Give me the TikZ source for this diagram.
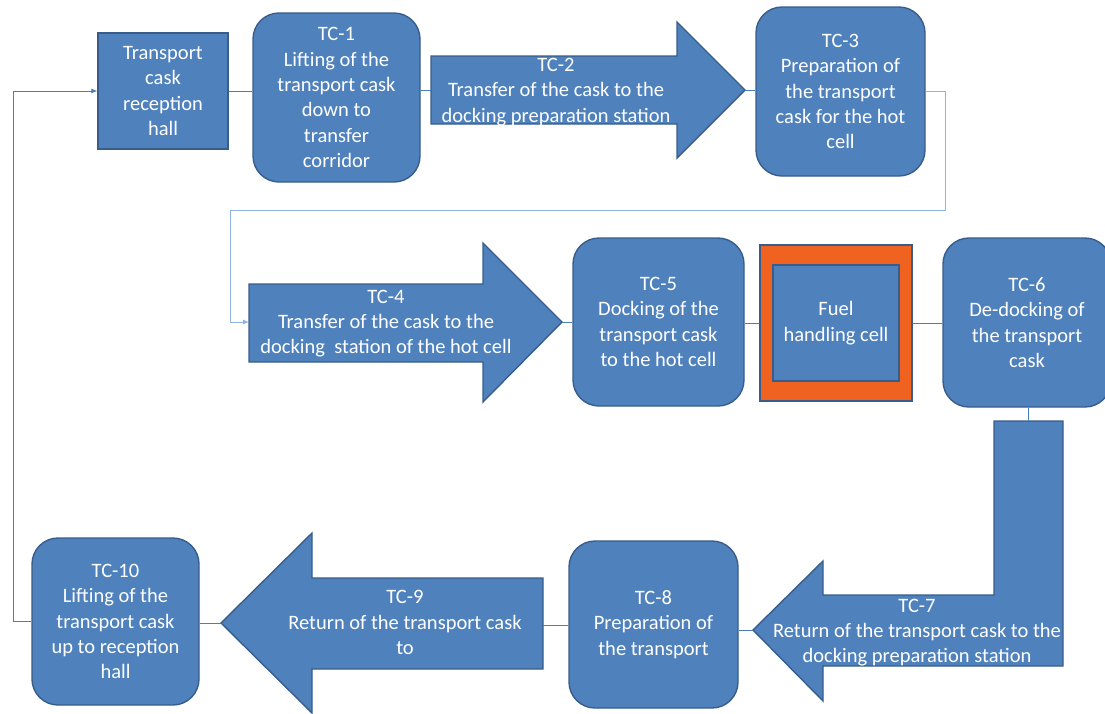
\documentclass[tikz,border=0pt]{standalone}
\usepackage{fontspec}
\setmainfont{Carlito}
\usetikzlibrary{arrows.meta}
\definecolor{boxfill}{HTML}{4F81BD}
\definecolor{boxline}{HTML}{385D8A}
\definecolor{conncol}{HTML}{4A7EBB}
\definecolor{connlight}{HTML}{8EB4E3}
\definecolor{cellorange}{HTML}{F0621F}
\tikzset{
  box/.style={draw=boxline, fill=boxfill, line width=1.4pt, inner sep=0pt,
    text=white, align=center, font=\fontsize{20.5}{25.3}\selectfont},
  rbox/.style={box, rounded corners=26pt},
  arrowshape/.style={draw=boxline, fill=boxfill, line width=1.4pt},
  lbl/.style={text=white, align=center, inner sep=0pt, font=\fontsize{20.5}{25.3}\selectfont},
  conn/.style={draw=conncol, line width=0.8pt},
  connl/.style={draw=connlight, line width=0.9pt},
  tip/.style={-{Latex[length=6pt,width=5pt]}}
}
\begin{document}
\begin{tikzpicture}[x=1pt,y=-1pt]
\useasboundingbox (0,0) rectangle (1105,713);

% ---- boxes ----
\node[box, minimum width=130pt, minimum height=116pt] (rh) at (163,91) {Transport\\cask\\reception\\hall};
\node[rbox, minimum width=167pt, minimum height=169pt] (tc1) at (336.5,97.5) {TC-1\\Lifting of the\\transport cask\\down to\\transfer\\corridor};
\node[rbox, minimum width=169pt, minimum height=169pt] (tc3) at (840.5,91.5) {TC-3\\Preparation of\\the transport\\cask for the hot\\cell};
\node[rbox, minimum width=171pt, minimum height=168pt] (tc5) at (658.5,322) {TC-5\\Docking of the\\transport cask\\to the hot cell};
\node[draw=boxline, fill=cellorange, line width=1.2pt, minimum width=152pt, minimum height=156pt, inner sep=0pt] (fuel) at (836,323) {};
\node[box, minimum width=126pt, minimum height=116pt] (fuelin) at (836,323) {Fuel\\handling cell};
\node[rbox, minimum width=168pt, minimum height=169pt] (tc6) at (1027,322.5) {TC-6\\De-docking of\\the transport\\cask};
\node[rbox, minimum width=169pt, minimum height=167pt] (tc8) at (653.5,624.5) {TC-8\\Preparation of\\the transport};
\node[rbox, minimum width=167pt, minimum height=167pt] (tc10) at (115.5,621.5) {TC-10\\Lifting of the\\transport cask\\up to reception\\hall};

% ---- block arrows ----
\coordinate (tc2tail) at (431,90);
\coordinate (tc2tip) at (745,90);
\draw[arrowshape] (431,56) -- (677,56) -- (677,22) -- (tc2tip) -- (677,158) -- (677,124) -- (431,124) -- cycle;
\node[lbl] (tc2) at (556,92) {TC-2\\Transfer of the cask to the\\docking preparation station};

\coordinate (tc4tail) at (249,322);
\coordinate (tc4tip) at (562,322);
\draw[arrowshape] (249,284) -- (483,284) -- (483,243) -- (tc4tip) -- (483,402) -- (483,362) -- (249,362) -- cycle;
\node[lbl] (tc4) at (386,323.5) {TC-4\\Transfer of the cask to the\\docking\ \ station of the hot cell};

\coordinate (tc7top) at (1028,421);
\coordinate (tc7tip) at (753,630);
\draw[arrowshape] (994,421) -- (1063,421) -- (1063,666) -- (823,666) -- (823,701) -- (tc7tip) -- (823,561) -- (823,595) -- (994,595) -- cycle;
\node[lbl] (tc7) at (917,632.5) {TC-7\\Return of the transport cask to the\\docking preparation station};

\coordinate (tc9tail) at (543,625);
\coordinate (tc9tip) at (221,623);
\draw[arrowshape] (543,578) -- (543,669) -- (312,669) -- (312,713) -- (tc9tip) -- (312,533) -- (312,578) -- cycle;
\node[lbl] (tc9) at (405,622.5) {TC-9\\Return of the transport cask\\to};

% ---- connectors ----
\draw[conn] (rh.east) -- (rh.east -| tc1.west);
\draw[conn] (tc2tail -| tc1.east) -- (tc2tail);
\draw[conn] (tc2tip) -- (tc2tip -| tc3.west);
\coordinate (c3a) at (945,91);
\coordinate (c3b) at (945,210);
\coordinate (c3c) at (230,210);
\draw[connl, tip] (tc3.east |- c3a) -- (c3a) -- (c3b) -- (c3c) -- (c3c |- tc4tail) -- (tc4tail);
\draw[conn] (tc4tip) -- (tc4tip -| tc5.west);
\draw[conn] (tc5.east |- fuel.west) -- (fuel.west);
\draw[conn] (fuel.east) -- (fuel.east -| tc6.west);
\draw[conn] (tc6.south -| tc7top) -- (tc7top);
\draw[conn] (tc7tip) -- (tc7tip -| tc8.east);
\draw[conn] (tc8.west |- tc9tail) -- (tc9tail);
\draw[conn] (tc9tip) -- (tc9tip -| tc10.east);
\coordinate (c10a) at (13,621);
\draw[conn, tip] (tc10.west |- c10a) -- (c10a) -- (c10a |- rh.west) -- (rh.west);
\end{tikzpicture}
\end{document}
